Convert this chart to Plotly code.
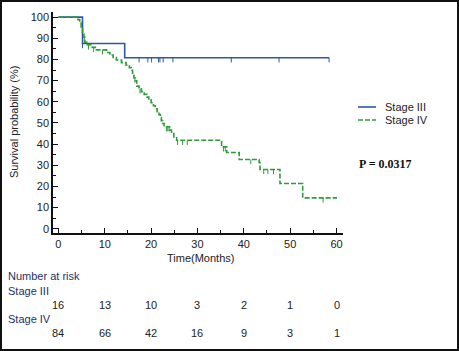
import plotly.graph_objects as go
import numpy as np

# ---- data ----
s3_time = [0, 5.2, 14.3, 58.4]
s3_surv = [100, 87.5, 80.8, 80.8]
s3_censor = [5.2, 17.4, 19.3, 20.1, 21.6, 21.9, 22.6, 24.7, 37.3, 47.6, 58.4]

s4_time = [0, 4.2, 4.6, 4.9, 5.2, 5.5, 5.7, 6.2, 7.3, 8.2, 10.4, 11.1, 11.8, 12.5,
           13.6, 14.6, 15.3, 15.7, 16.0, 16.3, 16.6, 16.9, 17.4, 17.9, 18.5, 19.1,
           19.5, 20.0, 20.5, 20.9, 21.3, 21.7, 22.0, 22.2, 22.5, 22.8, 24.0, 24.4,
           24.9, 25.5, 35.2, 36.3, 39.0, 43.3, 43.5, 47.8, 52.7, 60.1]
s4_surv = [100, 98.8, 97.6, 95.2, 92.9, 90.5, 88.1, 86.9, 85.7, 84.5, 83.3, 82.1, 80.9, 79.7,
           78.5, 77.3, 76.1, 74.9, 72.5, 71.2, 69.9, 67.4, 66.1, 64.8, 63.5, 62.2,
           60.9, 59.5, 58.1, 56.7, 55.3, 53.9, 52.5, 51.1, 49.7, 48.2, 46.6, 45.0,
           43.4, 41.8, 38.7, 36.0, 32.7, 31.3, 28.0, 21.4, 14.6, 14.6]
s4_censor = [5.6, 6.5, 7.6, 9.5, 16.5, 17.6, 23.3, 23.6, 23.9, 25.7, 26.8, 27.8,
             35.6, 36.0, 41.5, 44.3, 45.2, 46.4, 57.1]

risk_times = [0, 10, 20, 30, 40, 50, 60]
risk_s3 = [16, 13, 10, 3, 2, 1, 0]
risk_s4 = [84, 66, 42, 16, 9, 3, 1]

series_names = ["Stage III", "Stage IV"]
p_text = "P = 0.0317"

# ---- styling ----
C3 = "#2e58a6"
C4 = "#2f9a3c"
DASH4 = "5px,2px"
FONT = "Liberation Sans, Arial, sans-serif"
NAVY = "#25306e"

W, H = 459, 351
ML, MR, MT, MB = 53, 116, 12, 118
PW, PH = W - ML - MR, H - MT - MB


def step_value(times, survs, t):
    idx = np.searchsorted(np.array(times), t, side="right") - 1
    return survs[max(idx, 0)]


def censor_segments(times, survs, ctimes, drop=2.2):
    xs, ys = [], []
    for t in ctimes:
        v = step_value(times, survs, t)
        xs += [t, t, None]
        ys += [v, v - drop, None]
    return xs, ys


fig = go.Figure()
fig.add_trace(go.Scatter(x=s3_time, y=s3_surv, mode="lines", line_shape="hv",
                         line=dict(color=C3, width=1.6), name=series_names[0], showlegend=False))
fig.add_trace(go.Scatter(x=s4_time, y=s4_surv, mode="lines", line_shape="hv",
                         line=dict(color=C4, width=1.6, dash=DASH4), name=series_names[1],
                         showlegend=False))
cx, cy = censor_segments(s3_time, s3_surv, s3_censor)
fig.add_trace(go.Scatter(x=cx, y=cy, mode="lines", line=dict(color=C3, width=1),
                         showlegend=False, hoverinfo="skip"))
cx, cy = censor_segments(s4_time, s4_surv, s4_censor)
fig.add_trace(go.Scatter(x=cx, y=cy, mode="lines", line=dict(color=C4, width=1),
                         showlegend=False, hoverinfo="skip"))

axis_common = dict(showline=True, linecolor="#111", linewidth=1.5, ticks="inside",
                   ticklen=5, tickcolor="#111", tickwidth=1, showgrid=False, zeroline=False,
                   tickfont=dict(family=FONT, size=11, color="#222"),
                   minor=dict(ticks="inside", ticklen=3, dtick=5, tickcolor="#111", showgrid=False))

fig.update_xaxes(range=[-1.17, 61.4], tick0=0, dtick=10, **axis_common)
fig.update_yaxes(range=[-2.0, 102.4], tick0=0, dtick=10, **axis_common)


def px_x(px):
    return (px - ML) / PW


def px_y(py):
    return (H - MB - py) / PH


def text_ann(text, x, y, xanchor="center", color="#222", size=11, family=FONT, xref="paper", **kw):
    return dict(text=text, x=x, y=y, xref=xref, yref="paper", xanchor=xanchor,
                yanchor="middle", showarrow=False,
                font=dict(family=family, size=size, color=color), **kw)


ann = []
ann.append(text_ann("Survival probability (%)", px_x(14), px_y(122), textangle=-90))
ann.append(text_ann("Time(Months)", px_x(200), px_y(258)))
ann.append(text_ann("<b>" + p_text + "</b>", px_x(357), px_y(164), xanchor="left",
                    family="Liberation Serif, Times New Roman, serif", size=12, color="#111"))
for txt, py in [("Number at risk", 276), (series_names[0], 291), (series_names[1], 319)]:
    ann.append(text_ann(txt, px_x(6), px_y(py), xanchor="left", color=NAVY))
for vals, py in [(risk_s3, 305), (risk_s4, 333)]:
    for t, v in zip(risk_times, vals):
        ann.append(text_ann(str(v), t, px_y(py), xref="x"))

# manual legend
shapes = []
for name, py, col, dash in [(series_names[0], 107, C3, "solid"), (series_names[1], 120, C4, DASH4)]:
    shapes.append(dict(type="line", xref="paper", yref="paper", x0=px_x(358), x1=px_x(376),
                       y0=px_y(py), y1=px_y(py), line=dict(color=col, width=1.6, dash=dash)))
    ann.append(text_ann(name, px_x(383), px_y(py), xanchor="left"))

shapes.append(dict(type="rect", xref="paper", yref="paper",
                   x0=px_x(1), x1=px_x(458), y0=px_y(350), y1=px_y(1),
                   line=dict(color="#111", width=2)))

fig.update_layout(
    width=W, height=H, margin=dict(l=ML, r=MR, t=MT, b=MB),
    paper_bgcolor="white", plot_bgcolor="white",
    annotations=ann, shapes=shapes, showlegend=False,
)

fig.write_html("out.html")
